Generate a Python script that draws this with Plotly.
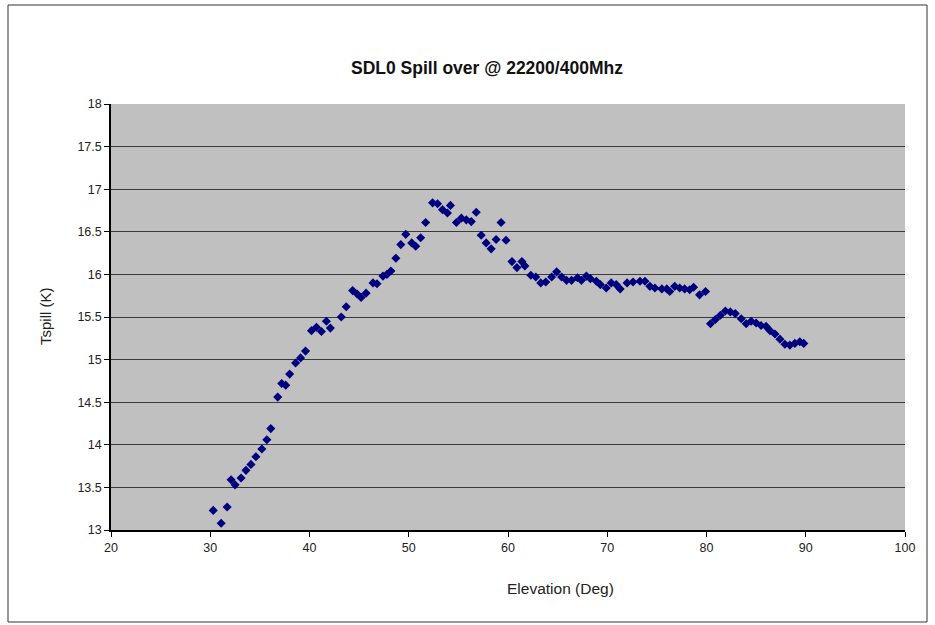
import plotly.graph_objects as go

elevation = [30.3, 31.1, 31.7, 32.1, 32.5, 33.1, 33.6, 34.1, 34.6, 35.2, 35.7, 36.1,
             36.8, 37.2, 37.6, 38.0, 38.6, 39.1, 39.6, 40.2, 40.7, 41.2, 41.7, 42.1,
             43.2, 43.7, 44.35, 44.8, 45.2, 45.7, 46.4, 46.8, 47.4, 47.8, 48.2, 48.7,
             49.2, 49.7, 50.3, 50.7, 51.2, 51.7, 52.4, 52.9, 53.4, 53.9, 54.2, 54.8,
             55.3, 55.8, 56.3, 56.8, 57.3, 57.8, 58.3, 58.8, 59.3, 59.8, 60.4, 60.9,
             61.4, 61.7, 62.3, 62.8, 63.3, 63.8, 64.4, 64.9, 65.4, 65.9, 66.4, 67.0,
             67.4, 67.9, 68.3, 68.9, 69.3, 69.9, 70.4, 70.9, 71.3, 72.0, 72.6, 73.3,
             73.8, 74.3, 74.8, 75.5, 76.0, 76.3, 76.8, 77.3, 77.8, 78.3, 78.7, 79.3,
             79.9, 80.4, 80.9, 81.4, 81.9, 82.4, 82.9, 83.5, 84.0, 84.5, 85.0, 85.5,
             86.0, 86.4, 86.9, 87.4, 87.9, 88.4, 88.9, 89.4, 89.8]

tspill = [13.23, 13.08, 13.27, 13.59, 13.53, 13.61, 13.70, 13.77, 13.86, 13.95, 14.06, 14.19,
          14.56, 14.72, 14.70, 14.83, 14.96, 15.02, 15.10, 15.34, 15.38, 15.33, 15.45, 15.37,
          15.50, 15.62, 15.81, 15.77, 15.73, 15.78, 15.90, 15.89, 15.98, 16.00, 16.04, 16.19,
          16.35, 16.47, 16.37, 16.33, 16.43, 16.61, 16.84, 16.83, 16.76, 16.72, 16.81, 16.61,
          16.66, 16.64, 16.62, 16.73, 16.46, 16.37, 16.30, 16.41, 16.61, 16.40, 16.15, 16.08,
          16.15, 16.10, 15.99, 15.97, 15.90, 15.91, 15.97, 16.03, 15.97, 15.93, 15.93, 15.96,
          15.93, 15.98, 15.95, 15.92, 15.88, 15.84, 15.90, 15.88, 15.83, 15.90, 15.91, 15.92,
          15.92, 15.86, 15.84, 15.83, 15.83, 15.80, 15.86, 15.84, 15.83, 15.82, 15.85, 15.76,
          15.80, 15.42, 15.47, 15.52, 15.57, 15.56, 15.54, 15.48, 15.42, 15.45, 15.43, 15.40,
          15.39, 15.34, 15.30, 15.24, 15.18, 15.17, 15.19, 15.21, 15.19]

x_ticks = [20, 30, 40, 50, 60, 70, 80, 90, 100]
y_ticks = [13, 13.5, 14, 14.5, 15, 15.5, 16, 16.5, 17, 17.5, 18]

fig = go.Figure()
fig.add_trace(go.Scatter(
    x=elevation, y=tspill, mode="markers",
    marker=dict(symbol="diamond", size=7, color="#00007f", line=dict(width=0)),
    showlegend=False,
))

L, R, T, B = 111, 30, 104, 95
W, H = 935, 625
pw, ph = W - L - R, H - T - B

fig.update_layout(
    width=W, height=H,
    margin=dict(l=L, r=R, t=T, b=B, pad=0),
    paper_bgcolor="white",
    plot_bgcolor="#c0c0c0",
    font=dict(family="Liberation Sans, Arial, sans-serif", size=12, color="#222"),
    annotations=[
        dict(text="<b>SDL0 Spill over @ 22200/400Mhz</b>", xref="paper", yref="paper",
             x=(487 - L) / pw, y=(530 - 68) / ph, xanchor="center", yanchor="middle",
             showarrow=False, font=dict(size=17.5, color="#111")),
        dict(text="Elevation (Deg)", xref="paper", yref="paper", x=(560 - L) / pw,
             y=(530 - 588) / ph, xanchor="center", yanchor="middle", showarrow=False,
             font=dict(size=15.5, color="#222")),
        dict(text="Tspill (K)", xref="paper", yref="paper", x=(45 - L) / pw,
             y=(530 - 316) / ph, xanchor="center", yanchor="middle", textangle=-90,
             showarrow=False, font=dict(size=15, color="#222")),
    ],
    xaxis=dict(range=[20, 100], tickvals=x_ticks, ticktext=[str(v) for v in x_ticks],
               showgrid=False, zeroline=False, showline=True, linecolor="#000",
               linewidth=1.5, ticks="outside", ticklen=5, tickcolor="#000",
               tickfont=dict(size=12.5)),
    yaxis=dict(range=[13, 18], tickvals=y_ticks, ticktext=[f"{v:g}" for v in y_ticks],
               showgrid=True, gridcolor="#3a3a3a", gridwidth=1.2, zeroline=False,
               showline=True, linecolor="#000", linewidth=1.5, ticks="outside",
               ticklen=5, tickcolor="#000", tickfont=dict(size=12.5)),
    shapes=[
        dict(type="rect", xref="paper", yref="paper",
             x0=(8 - L) / pw, x1=(927 - L) / pw,
             y0=(530 - 622) / ph, y1=(530 - 5) / ph,
             line=dict(color="#333", width=1), fillcolor="rgba(0,0,0,0)", layer="below"),
    ],
)

fig.write_html("out.html")
